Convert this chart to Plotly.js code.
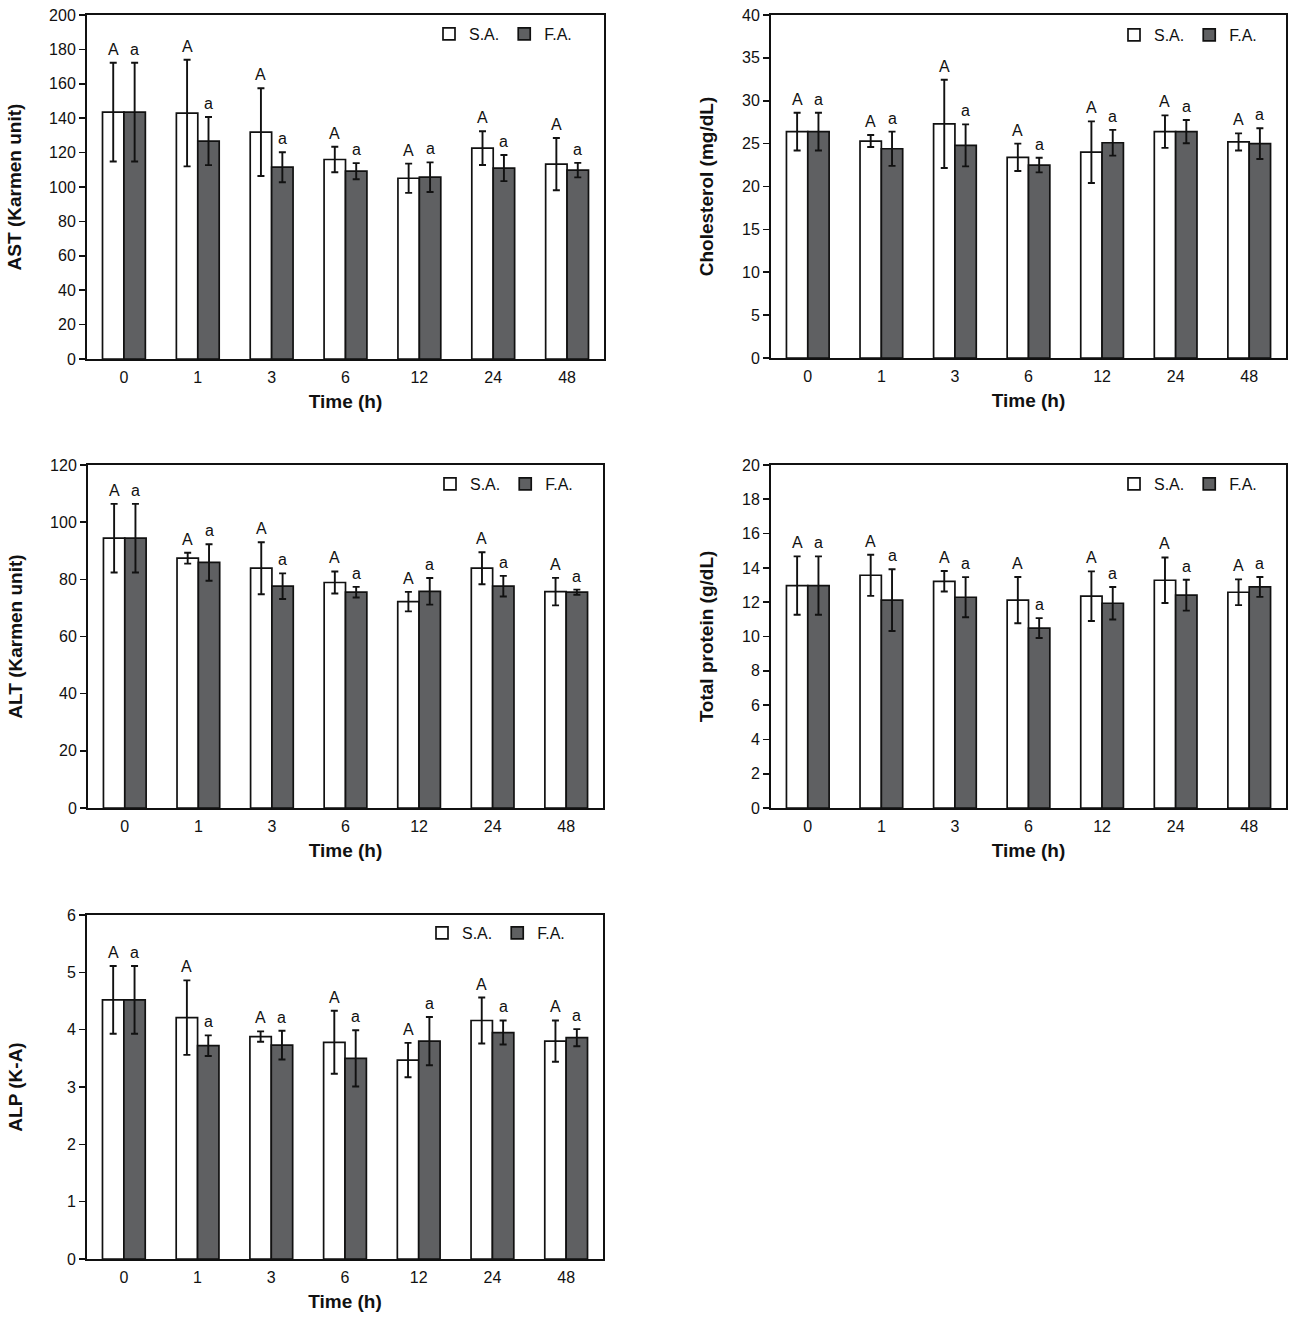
<!DOCTYPE html>
<html><head><meta charset="utf-8">
<script src="https://cdn.plot.ly/plotly-3.0.1.min.js"></script>
<style>body{margin:0;background:#fff}#chart{width:1303px;height:1324px}</style>
</head><body><div id="chart"></div>
<script>
// ---- data ----
const times = ["0", "1", "3", "6", "12", "24", "48"];
const seriesNames = ["S.A.", "F.A."];

const astSA     = [143.5, 143.0, 131.9, 116.0, 105.1, 122.6, 113.3];
const astSAErr  = [28.7, 31.0, 25.5, 7.4, 8.5, 9.8, 15.2];
const astFA     = [143.5, 126.7, 111.5, 109.2, 105.7, 111.0, 109.8];
const astFAErr  = [28.7, 14.0, 8.7, 4.7, 8.6, 7.6, 4.2];

const cholSA    = [26.4, 25.3, 27.3, 23.4, 24.0, 26.4, 25.2];
const cholSAErr = [2.2, 0.7, 5.15, 1.6, 3.6, 1.9, 1.0];
const cholFA    = [26.4, 24.4, 24.8, 22.5, 25.1, 26.4, 25.0];
const cholFAErr = [2.2, 2.0, 2.45, 0.85, 1.5, 1.35, 1.8];

const altSA     = [94.4, 87.4, 83.9, 78.9, 72.2, 83.9, 75.7];
const altSAErr  = [12.0, 1.9, 9.1, 3.85, 3.4, 5.6, 4.8];
const altFA     = [94.4, 85.9, 77.6, 75.5, 75.8, 77.6, 75.5];
const altFAErr  = [12.0, 6.4, 4.5, 1.85, 4.65, 3.6, 0.9];

const tpSA      = [12.97, 13.57, 13.22, 12.12, 12.35, 13.28, 12.58];
const tpSAErr   = [1.7, 1.2, 0.6, 1.35, 1.45, 1.33, 0.75];
const tpFA      = [12.97, 12.12, 12.29, 10.49, 11.94, 12.41, 12.89];
const tpFAErr   = [1.7, 1.8, 1.17, 0.58, 0.95, 0.9, 0.58];

const alpSA     = [4.52, 4.21, 3.88, 3.78, 3.47, 4.16, 3.80];
const alpSAErr  = [0.59, 0.65, 0.09, 0.55, 0.30, 0.40, 0.36];
const alpFA     = [4.52, 3.72, 3.73, 3.50, 3.80, 3.95, 3.86];
const alpFAErr  = [0.59, 0.18, 0.25, 0.49, 0.42, 0.21, 0.15];

const lettersSA = ["A", "A", "A", "A", "A", "A", "A"];
const lettersFA = ["a", "a", "a", "a", "a", "a", "a"];

const panelTitles = ["AST (Karmen unit)", "Cholesterol (mg/dL)", "ALT (Karmen unit)", "Total protein (g/dL)", "ALP (K-A)"];
const panelMax    = [200, 40, 120, 20, 6];
const panelDtick  = [20, 5, 20, 2, 1];

// ---- layout geometry ----
const W = 1303, H = 1324;
const BARGAP = 0.42;
const panels = [
  {sa: astSA,  saE: astSAErr,  fa: astFA,  faE: astFAErr,  px: [87, 604],  py: [15, 359],  leg: [429, 34],  stand: 22},
  {sa: cholSA, saE: cholSAErr, fa: cholFA, faE: cholFAErr, px: [771, 1286], py: [15, 358], leg: [1114, 35], stand: 23},
  {sa: altSA,  saE: altSAErr,  fa: altFA,  faE: altFAErr,  px: [88, 603],  py: [465, 808], leg: [430, 484], stand: 22},
  {sa: tpSA,   saE: tpSAErr,   fa: tpFA,   faE: tpFAErr,   px: [771, 1286], py: [465, 808], leg: [1114, 484], stand: 23},
  {sa: alpSA,  saE: alpSAErr,  fa: alpFA,  faE: alpFAErr,  px: [87, 603],  py: [915, 1259], leg: [422, 933], stand: 39}
];

const FONT = "Liberation Sans, Arial, sans-serif";
const INK = "#111";
const FA_COLOR = "#5f6062";

const traces = [];
const layout = {
  width: W, height: H,
  margin: {l: 0, r: 0, t: 0, b: 0},
  paper_bgcolor: "#fff", plot_bgcolor: "#fff",
  bargap: BARGAP, bargroupgap: 0,
  barmode: "group",
  font: {family: FONT, color: INK, size: 16},
  annotations: []
};

panels.forEach((p, k) => {
  const n = k + 1;
  const sfx = n === 1 ? "" : String(n);
  const xa = "x" + sfx, ya = "y" + sfx;
  const legName = "legend" + sfx;
  const errStyle = {type: "data", visible: true, color: INK, thickness: 1.9, width: 3.5};
  traces.push({
    type: "bar", x: times, y: p.sa, name: seriesNames[0], xaxis: xa, yaxis: ya,
    legend: legName,
    marker: {color: "#ffffff", line: {color: INK, width: 1.7}},
    error_y: Object.assign({array: p.saE}, errStyle),
    hoverinfo: "y"
  });
  traces.push({
    type: "bar", x: times, y: p.fa, name: seriesNames[1], xaxis: xa, yaxis: ya,
    legend: legName,
    marker: {color: FA_COLOR, line: {color: INK, width: 1.7}},
    error_y: Object.assign({array: p.faE}, errStyle),
    hoverinfo: "y"
  });

  layout["xaxis" + sfx] = {
    domain: [p.px[0] / W, p.px[1] / W],
    anchor: ya, type: "category",
    showline: true, mirror: true, linecolor: INK, linewidth: 2,
    ticks: "", showgrid: false, zeroline: false,
    tickfont: {size: 16, color: INK},
    ticklabelstandoff: 3,
    title: {text: "Time (h)", font: {size: 19, weight: "bold", color: INK}, standoff: 9}
  };
  layout["yaxis" + sfx] = {
    domain: [1 - p.py[1] / H, 1 - p.py[0] / H],
    anchor: xa, range: [0, panelMax[k]], dtick: panelDtick[k],
    showline: true, mirror: true, linecolor: INK, linewidth: 2,
    ticks: "outside", ticklen: 6, tickwidth: 1.6, tickcolor: INK,
    showgrid: false, zeroline: false,
    tickfont: {size: 16, color: INK},
    title: {text: panelTitles[k], font: {size: 19, weight: "bold", color: INK}, standoff: p.stand}
  };
  layout[legName] = {
    orientation: "h", x: p.leg[0] / W, xanchor: "left",
    y: 1 - p.leg[1] / H, yanchor: "middle",
    bgcolor: "rgba(0,0,0,0)", font: {size: 16, color: INK},
    traceorder: "normal"
  };

  const off = (1 - BARGAP) / 4;
  times.forEach((t, i) => {
    layout.annotations.push({
      xref: xa, yref: ya, x: i - off, y: p.sa[i] + p.saE[i],
      text: lettersSA[i], showarrow: false, yanchor: "bottom", yshift: 3,
      font: {size: 16, color: INK}
    });
    layout.annotations.push({
      xref: xa, yref: ya, x: i + off, y: p.fa[i] + p.faE[i],
      text: lettersFA[i], showarrow: false, yanchor: "bottom", yshift: 3,
      font: {size: 16, color: INK}
    });
  });
});

Plotly.newPlot("chart", traces, layout, {staticPlot: true, displayModeBar: false});
</script>
</body></html>
